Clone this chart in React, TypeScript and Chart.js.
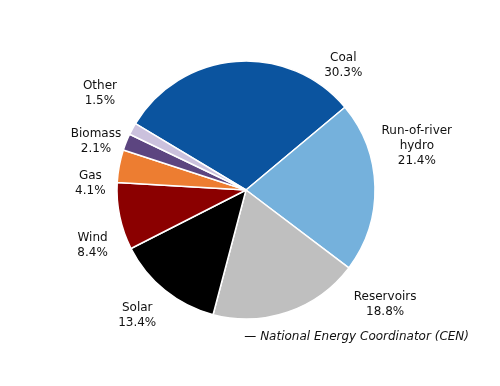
import React, { useEffect, useRef } from "react";
import { Chart, registerables } from "chart.js";

Chart.register(...registerables);

const categories = ["Coal", "Run-of-river hydro", "Reservoirs", "Solar", "Wind", "Gas", "Biomass", "Other"];
const labelLines = [["Coal"], ["Run-of-river", "hydro"], ["Reservoirs"], ["Solar"], ["Wind"], ["Gas"], ["Biomass"], ["Other"]];
const shares = [30.3, 21.4, 18.8, 13.4, 8.4, 4.1, 2.1, 1.5];
const colors = ["#0B549F", "#75B1DC", "#BFBFBF", "#000000", "#8B0000", "#ED7D31", "#5C4580", "#CBC1DD"];
const sourceText = "\u2014 National Energy Coordinator (CEN)";

// label placement: angle (deg clockwise from top), distance as multiple of radius
const labelAngles = [38, 75.6, 129.5, 220.9, 250, 272.6, 287.9, 303.5];
const labelDist = [1.225, 1.367, 1.398, 1.288, 1.266, 1.208, 1.222, 1.358];

const FONT = "12px 'DejaVu Sans'";

const labelPlugin = {
  id: "pieLabels",
  afterDatasetsDraw(chart: any) {
    const ctx = chart.ctx as CanvasRenderingContext2D;
    const meta = chart.getDatasetMeta(0);
    const arc0 = meta.data[0];
    if (!arc0) return;
    const cx = arc0.x;
    const cy = arc0.y;
    const r = arc0.outerRadius;
    ctx.save();
    ctx.fillStyle = "#111111";
    ctx.font = FONT;
    ctx.textAlign = "center";
    ctx.textBaseline = "middle";
    const lh = 15;
    shares.forEach((v, i) => {
      const a = (labelAngles[i] * Math.PI) / 180;
      const d = labelDist[i] * r;
      const x = cx + Math.sin(a) * d;
      const y = cy - Math.cos(a) * d;
      const lines = [...labelLines[i], v.toFixed(1) + "%"];
      const y0 = y - ((lines.length - 1) * lh) / 2;
      lines.forEach((t, j) => ctx.fillText(t, x, y0 + j * lh));
    });
    ctx.font = "italic 12px 'DejaVu Sans'";
    ctx.textAlign = "right";
    ctx.fillText(sourceText, 469, 337);
    ctx.restore();
  },
};

export default function App() {
  const ref = useRef<HTMLCanvasElement | null>(null);
  useEffect(() => {
    if (!ref.current) return;
    const chart = new Chart(ref.current, {
      type: "pie",
      data: {
        labels: categories,
        datasets: [
          {
            data: shares,
            backgroundColor: colors,
            borderColor: "#ffffff",
            borderWidth: 1.5,
          },
        ],
      },
      options: {
        animation: false,
        responsive: false,
        rotation: -59,
        radius: 129,
        layout: { padding: { left: 116, right: 124, top: 60, bottom: 66 } },
        plugins: {
          legend: { display: false },
          tooltip: { enabled: false },
        },
      },
      plugins: [labelPlugin],
    });
    return () => chart.destroy();
  }, []);
  return (
    <div style={{ position: "absolute", left: 0, top: 0, width: 500, height: 386, background: "#fff" }}>
      <canvas ref={ref} width={500} height={386} style={{ width: 500, height: 386 }} />
    </div>
  );
}
